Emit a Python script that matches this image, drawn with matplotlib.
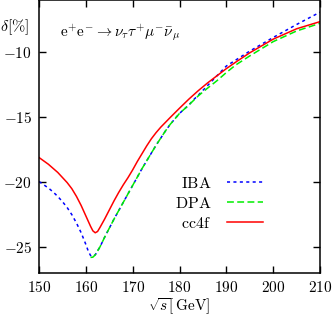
import numpy as np
import matplotlib
matplotlib.use("Agg")
import matplotlib.pyplot as plt
from matplotlib.ticker import FuncFormatter, MultipleLocator

plt.rcParams['mathtext.fontset'] = 'cm'
plt.rcParams['font.family'] = 'serif'

# energia sqrt(s) en GeV y correccion delta en %
E_iba = [150, 151, 152, 153, 154, 155, 156, 157, 158, 159, 160, 160.5, 161, 161.5,
         162, 163, 164, 165, 166, 167, 168, 169, 170, 171, 172, 173, 174, 175, 176,
         177, 178, 180, 182, 183, 184, 186, 188, 190, 195, 200, 205, 210]
d_iba = [-19.95, -20.2, -20.45, -20.75, -21.1, -21.5, -21.95, -22.5, -23.15, -23.9,
         -24.8, -25.3, -25.65, -25.72, -25.6, -25.0, -24.25, -23.55, -22.85, -22.2,
         -21.55, -20.9, -20.25, -19.6, -18.95, -18.35, -17.75, -17.15, -16.6,
         -16.05, -15.55, -14.7, -14.05, -13.65, -13.3, -12.55, -11.8, -11.05,
         -9.9, -8.85, -7.85, -6.9]

E_dpa = [161, 161.5, 162, 163, 164, 165, 166, 167, 168, 169, 170, 171, 172, 173,
         174, 175, 176, 177, 178, 180, 182, 184, 186, 188, 190, 192, 195, 200, 205, 210]
d_dpa = [-25.8, -25.78, -25.6, -25.0, -24.25, -23.55, -22.85, -22.2, -21.55, -20.9,
         -20.25, -19.6, -18.95, -18.35, -17.75, -17.15, -16.6, -16.05, -15.55,
         -14.7, -14.05, -13.35, -12.75, -12.18, -11.55, -10.97, -10.27, -9.17,
         -8.35, -7.76]

E_cc4f = [150, 152, 154, 156, 157, 158, 159, 160, 161, 161.5, 162, 162.5, 163, 164,
          165, 166, 167, 168, 169, 170, 171, 172, 173, 174, 175, 176, 178, 180, 182,
          184, 186, 188, 190, 192, 195, 200, 205, 210]
d_cc4f = [-18.1, -18.62, -19.25, -20.03, -20.5, -21.1, -21.8, -22.6, -23.4, -23.75,
          -23.9, -23.8, -23.5, -22.85, -22.15, -21.45, -20.8, -20.2, -19.65, -19.05,
          -18.4, -17.8, -17.2, -16.65, -16.18, -15.76, -15.02, -14.3, -13.6, -12.95,
          -12.35, -11.8, -11.25, -10.75, -10.03, -8.98, -8.18, -7.63]

fig = plt.figure(figsize=(3.32, 3.18), dpi=100)
ax = fig.add_axes([0.1175, 0.1415, 0.8465, 0.857])

ax.plot(E_iba, d_iba, color='#0000ff', lw=1.1, dashes=(2.0, 2.2), label=r'$\mathrm{IBA}$')
ax.plot(E_dpa, d_dpa, color='#00ee00', lw=1.1, dashes=(4.5, 2.2), label=r'$\mathrm{DPA}$')
ax.plot(E_cc4f, d_cc4f, color='#ff0000', lw=1.1, label=r'$\mathrm{cc4f}$')

ax.set_xlim(150, 210)
ax.set_ylim(-27, -6)
ax.xaxis.set_major_locator(MultipleLocator(10))
ax.yaxis.set_major_locator(MultipleLocator(5))
fmt = FuncFormatter(lambda v, p: r'$%d$' % round(v))
ax.xaxis.set_major_formatter(fmt)
ax.yaxis.set_major_formatter(fmt)
ax.tick_params(direction='in', top=True, right=True, length=5, width=1.0,
               labelsize=11)
ax.tick_params(axis='x', pad=5)
ax.tick_params(axis='y', pad=5)
for s in ax.spines.values():
    s.set_linewidth(1.1)

ax.set_xlabel(r'$\sqrt{s}[\,\mathrm{GeV}]$', fontsize=11, labelpad=1.2)
fig.text(0.0, 0.915, r'$\delta[\%]$', fontsize=11.5, va='center', ha='left')
ax.text(0.075, 0.883, r'$\mathrm{e}^{+}\mathrm{e}^{-}\rightarrow\nu_\tau\tau^{+}\mu^{-}\bar{\nu}_\mu$',
        transform=ax.transAxes, fontsize=11, va='center', ha='left')

ax.legend(loc='upper right', bbox_to_anchor=(0.797, 0.36), frameon=False,
          markerfirst=False, fontsize=11.5, handlelength=2.25, handletextpad=1.0,
          labelspacing=0.18, borderpad=0.0, borderaxespad=0.0)

fig.savefig('out.png', dpi=100)
